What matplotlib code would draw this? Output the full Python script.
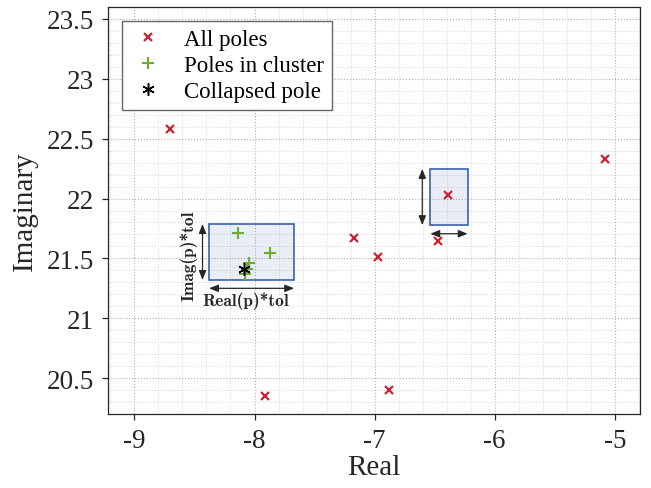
import os
import matplotlib
matplotlib.use('Agg')
import matplotlib.pyplot as plt
from matplotlib.patches import Rectangle
from matplotlib.ticker import MultipleLocator
from matplotlib.font_manager import FontProperties

plt.rcParams['font.family'] = ['Liberation Serif', 'DejaVu Serif']

# bold Computer Modern for the box annotations
cm_bold = FontProperties(fname=os.path.join(matplotlib.get_data_path(), 'fonts', 'ttf', 'cmb10.ttf'),
                         size=12.5)

# === POLES ===
all_re = [-8.70, -7.17, -6.97, -6.47, -6.39, -5.08, -7.91, -6.88]
all_im = [22.58, 21.67, 21.51, 21.645, 22.03, 22.33, 20.353, 20.40]

cluster_re = [-8.14, -7.87, -8.05, -8.06, -8.08]
cluster_im = [21.71, 21.545, 21.46, 21.41, 21.37]

collapsed_re = [-8.09]
collapsed_im = [21.415]

# tolerance boxes: (re_min, re_max, im_min, im_max)
boxes = [(-8.378, -7.67, 21.32, 21.787),
         (-6.536, -6.225, 21.778, 22.247)]

red = '#cc2233'
green = '#6fac35'
dark = '#262626'

fig = plt.figure(figsize=(6.51, 4.89), dpi=100)
ax = fig.add_axes([0.1659, 0.1513, 0.8172, 0.8323])

# tolerance rectangles with dimension arrows
for i, (x0, x1, y0, y1) in enumerate(boxes):
    ax.add_patch(Rectangle((x0, y0), x1 - x0, y1 - y0, facecolor='#2e5fb0', alpha=0.1,
                           edgecolor='none', zorder=1))
    ax.add_patch(Rectangle((x0, y0), x1 - x0, y1 - y0, facecolor='none',
                           edgecolor='#3a62a8', lw=1.2, zorder=2))
    xa = x0 - (0.055 if i == 0 else 0.067)
    yb = y0 - (0.07 if i == 0 else 0.072)
    arrow = dict(arrowstyle='<|-|>,head_length=0.55,head_width=0.22', color=dark, lw=0.9,
                 shrinkA=0, shrinkB=0)
    ax.annotate('', xy=(xa, y1), xytext=(xa, y0), arrowprops=arrow, zorder=3)
    ax.annotate('', xy=(x1, yb), xytext=(x0, yb), arrowprops=arrow, zorder=3)
    if i == 0:
        ax.text(xa - 0.115, (y0 + y1) / 2 - 0.02, 'Imag(p)*tol', fontproperties=cm_bold,
                rotation=90, ha='center', va='center', color=dark, zorder=3)
        ax.text((x0 + x1) / 2 - 0.05, yb - 0.1, 'Real(p)*tol', fontproperties=cm_bold,
                ha='center', va='center', color=dark, zorder=3)

ax.plot(all_re, all_im, 'x', color=red, ms=6, mew=1.6, ls='none', label='All poles', zorder=4)
ax.plot(cluster_re, cluster_im, '+', color=green, ms=8, mew=1.5, ls='none',
        label='Poles in cluster', zorder=5)
ax.plot(collapsed_re, collapsed_im, ls='none', color='black', ms=9, mew=1.1,
        label='Collapsed pole', zorder=6, marker=(6, 2, 0))

ax.set_xlim(-9.22, -4.79)
ax.set_ylim(20.2, 23.6)
ax.xaxis.set_minor_locator(MultipleLocator(0.2))
ax.yaxis.set_minor_locator(MultipleLocator(0.1))
ax.set_xticks([-9, -8, -7, -6, -5])
ax.set_xticklabels(['-9', '-8', '-7', '-6', '-5'])
ax.set_yticks([20.5, 21, 21.5, 22, 22.5, 23, 23.5])
ax.set_yticklabels(['20.5', '21', '21.5', '22', '22.5', '23', '23.5'])

ax.grid(which='major', ls=':', color='#b0b0b0', lw=0.8)
ax.grid(which='minor', ls=':', color='#d8d8d8', lw=0.7)
ax.set_axisbelow(True)
ax.tick_params(which='major', direction='out', length=4, width=0.9, colors=dark,
               labelsize=19.5, pad=6)
ax.tick_params(which='minor', length=0)
for s in ax.spines.values():
    s.set_color(dark)
    s.set_linewidth(0.9)

ax.set_xlabel('Real', fontsize=21, color=dark, labelpad=1)
ax.set_ylabel('Imaginary', fontsize=21, color=dark, labelpad=6)

leg = ax.legend(loc='upper left', bbox_to_anchor=(0.026, 0.966), fontsize=16.5,
                frameon=True, fancybox=False, edgecolor='#666666', framealpha=1,
                borderaxespad=0, handlelength=1.6, handletextpad=0.75, labelspacing=0.22,
                borderpad=0.35)
leg.get_frame().set_linewidth(1.0)

fig.savefig('out.png', dpi=100)
